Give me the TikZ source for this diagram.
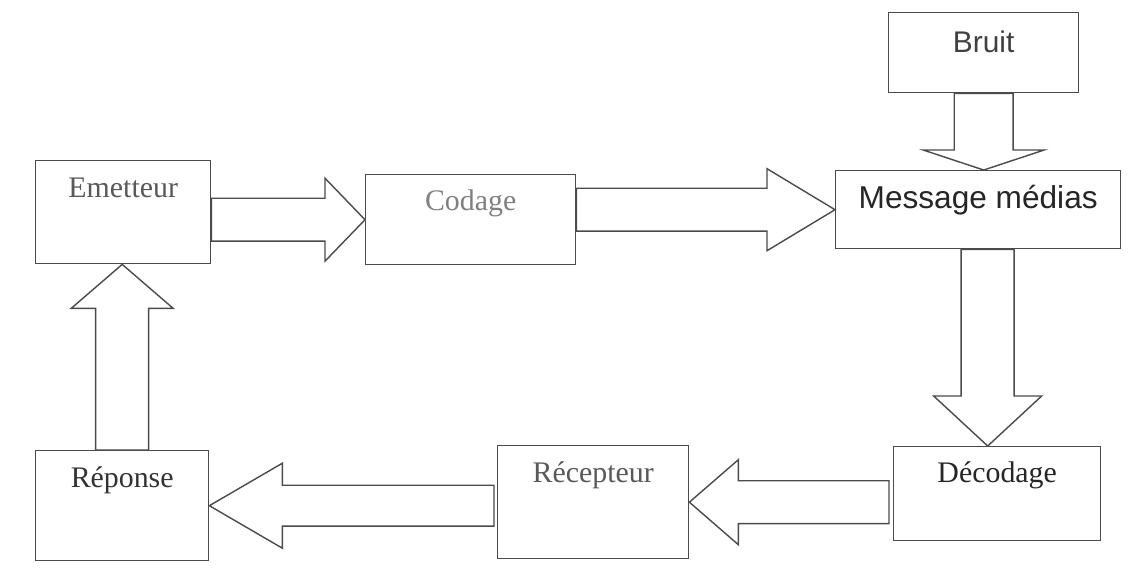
\documentclass[tikz,border=0pt]{standalone}
\usepackage{fontspec}
\setmainfont{Liberation Serif}
\newfontfamily\sansmsg{Liberation Sans}
\usepackage{tikz}
\usetikzlibrary{calc,positioning}
\definecolor{trait}{RGB}{75,75,75}

% fleche creuse : depart, pointe, demi-corps, demi-tete, longueur de tete
\newcommand{\fleche}[5]{%
  \coordinate (fb) at ($(#2)!#5!(#1)$);
  \draw[fleche] ($(#1)!#3!90:(#2)$) -- ($(fb)!#3!90:(#2)$) -- ($(fb)!#4!90:(#2)$) -- (#2)
    -- ($(fb)!#4!-90:(#2)$) -- ($(fb)!#3!-90:(#2)$) -- ($(#1)!#3!-90:(#2)$) -- cycle;}

\tikzset{
  bloc/.style n args={3}{draw=trait, line width=0.8pt, anchor=north west, inner sep=0pt,
    minimum width=#1cm, text height=#2cm, text depth=#3cm,
    font=\fontsize{17}{20}\selectfont},
  fleche/.style={draw=trait, line width=0.8pt, line join=miter},
}

\begin{document}
\begin{tikzpicture}[x=0.02cm,y=-0.02cm]
  \useasboundingbox[fill=white] (0,0) rectangle (1139,579);
  % blocs
  \node[bloc={3.8}{0.8}{0.8}, text=black!75, font=\sansmsg\fontsize{17}{20}\selectfont] (bruit) at (888,12) {Bruit};
  \node[bloc={3.5}{0.74}{1.32}, text=black!65] (emetteur) at (35,160) {Emetteur};
  \node[bloc={4.2}{0.72}{1.08}, text=black!50] (codage) at (365,174) {Codage};
  \node[bloc={5.7}{0.76}{0.8}, text=black!85, font=\sansmsg\fontsize{18}{20}\selectfont] (message) at (835,170) {Message médias};
  \node[bloc={4.14}{0.72}{1.16}, text=black!85] (decodage) at (893,446) {Décodage};
  \node[bloc={3.82}{0.74}{1.52}, text=black!65] (recepteur) at (497,445) {Récepteur};
  \node[bloc={3.46}{0.74}{1.46}, text=black!80] (reponse) at (35,450) {Réponse};
  % fleches
  \fleche{emetteur.east |- codage.west}{codage.west}{0.43cm}{0.83cm}{0.8cm}
  \fleche{codage.east |- message.west}{message.west}{0.43cm}{0.82cm}{1.36cm}
  \fleche{bruit.south}{bruit.south |- message.north}{0.59cm}{1.21cm}{0.4cm}
  \coordinate (m4) at ($(message.south)!.5!(decodage.north)$);
  \fleche{m4 |- message.south}{m4 |- decodage.north}{0.53cm}{1.08cm}{1.0cm}
  \coordinate (q5) at ($(decodage.west |- recepteur.east)+(-4,0)$);
  \fleche{q5}{recepteur.east}{0.43cm}{0.85cm}{0.98cm}
  \coordinate (q6) at ($(recepteur.west |- reponse.east)+(-3,0)$);
  \fleche{q6}{reponse.east}{0.41cm}{0.85cm}{1.46cm}
  \fleche{reponse.north}{reponse.north |- emetteur.south}{0.53cm}{1.02cm}{0.88cm}
\end{tikzpicture}
\end{document}
